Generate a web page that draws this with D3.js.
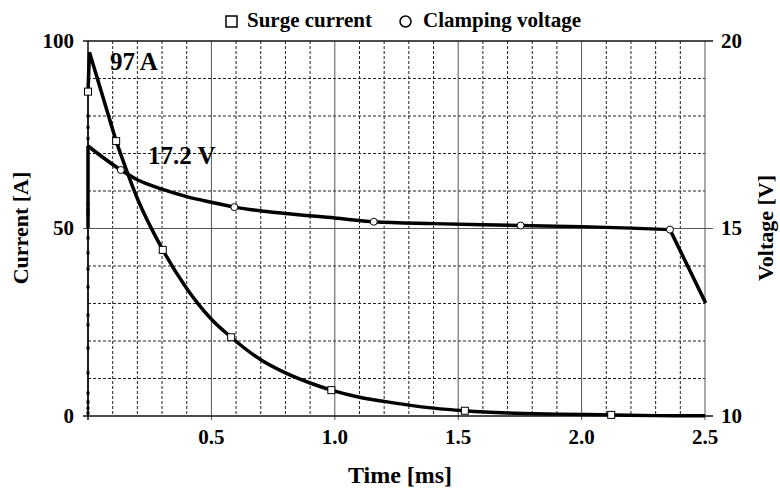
<!DOCTYPE html>
<html>
<head>
<meta charset="utf-8">
<script src="https://cdn.jsdelivr.net/npm/d3@7"></script>
<style>
  body { margin: 0; background: #fff; }
  svg { display: block; font-family: "Liberation Serif", "Times New Roman", serif; font-weight: bold; }
</style>
</head>
<body>
<svg width="780" height="495"></svg>
<script>
// surge current [A] vs time [ms]
var currentRise = [0.8, 2.1, 3.7, 6.1, 11.5, 18.1, 24.3, 26.9, 34.4, 39.2, 43.5, 47.5, 54.1, 55.0, 56.3, 74, 77, 80, 86.5];
var currentTime = [0, 0.006, 0.114, 0.2, 0.303, 0.4, 0.5, 0.58, 0.7, 0.8, 0.9, 0.986, 1.1, 1.2, 1.3, 1.4, 1.527, 1.7, 1.9, 2.12, 2.3, 2.5];
var currentVal  = [86.5, 97, 73.3, 58, 44.3, 34, 25.8, 21, 15, 11.5, 8.8, 6.9, 5.0, 3.9, 2.9, 2.1, 1.4, 0.8, 0.5, 0.3, 0.1, 0.05];
var currentMarkT = [0, 0.114, 0.303, 0.58, 0.986, 1.527, 2.12];
var currentMarkV = [86.5, 73.3, 44.3, 21, 6.9, 1.4, 0.3];

// clamping voltage [V]
var voltRise = [15.0, 17.2];
var voltTime = [0, 0.133, 0.2, 0.3, 0.4, 0.5, 0.593, 0.8, 1.0, 1.158, 1.4, 1.6, 1.753, 2.0, 2.2, 2.358, 2.5];
var voltVal  = [17.2, 16.56, 16.3, 16.05, 15.85, 15.7, 15.57, 15.4, 15.28, 15.18, 15.13, 15.1, 15.08, 15.05, 15.01, 14.97, 13.05];
var voltMarkT = [0.133, 0.593, 1.158, 1.753, 2.358];
var voltMarkV = [16.56, 15.57, 15.18, 15.08, 14.97];

var xTicks = [0.5, 1.0, 1.5, 2.0, 2.5];
var yTicks = [0, 50, 100];
var y2Ticks = [10, 15, 20];

var svg = d3.select("svg");
var pLeft = 88, pRight = 705, pTop = 41, pBottom = 416;

var x = d3.scaleLinear().domain([0, 2.5]).range([pLeft, pRight]);
var y = d3.scaleLinear().domain([0, 100]).range([pBottom, pTop]);
var y2 = d3.scaleLinear().domain([10, 20]).range([pBottom, pTop]);

// minor dashed grid
var g = svg.append("g");
d3.range(1, 25).filter(function(i) { return i % 5 != 0; }).forEach(function(i) {
  g.append("line").attr("x1", x(i / 10)).attr("x2", x(i / 10))
    .attr("y1", pTop).attr("y2", pBottom)
    .attr("stroke", "#222").attr("stroke-dasharray", "3,2");
});
d3.range(1, 10).filter(function(i) { return i != 5; }).forEach(function(i) {
  g.append("line").attr("x1", pLeft).attr("x2", pRight)
    .attr("y1", y(i * 10)).attr("y2", y(i * 10))
    .attr("stroke", "#222").attr("stroke-dasharray", "3,2");
});
// major grid
xTicks.forEach(function(t) {
  g.append("line").attr("x1", x(t)).attr("x2", x(t))
    .attr("y1", pTop).attr("y2", pBottom + 4)
    .attr("stroke", "#555");
});
g.append("line").attr("x1", pLeft - 5).attr("x2", pRight + 8)
  .attr("y1", y(50)).attr("y2", y(50)).attr("stroke", "#555");
g.append("line").attr("x1", pLeft - 5).attr("x2", pRight + 8)
  .attr("y1", y(100)).attr("y2", y(100)).attr("stroke", "#111").attr("stroke-width", 1.3);
g.append("line").attr("x1", pLeft - 5).attr("x2", pRight + 8)
  .attr("y1", y(0)).attr("y2", y(0)).attr("stroke", "#111").attr("stroke-width", 1.5);
g.append("line").attr("x1", pLeft).attr("x2", pLeft)
  .attr("y1", pTop).attr("y2", pBottom + 4).attr("stroke", "#111").attr("stroke-width", 1.5);

// tick labels
svg.append("g").selectAll("text").data(yTicks).enter().append("text")
  .attr("x", 74).attr("y", function(d) { return y(d); }).attr("dy", "0.33em")
  .attr("text-anchor", "end").attr("font-size", 21).text(function(d) { return d; });
svg.append("g").selectAll("text").data(y2Ticks).enter().append("text")
  .attr("x", 721).attr("y", function(d) { return y2(d); }).attr("dy", "0.33em")
  .attr("font-size", 21).text(function(d) { return d; });
svg.append("g").selectAll("text").data(xTicks).enter().append("text")
  .attr("x", function(d) { return x(d); }).attr("y", 444)
  .attr("text-anchor", "middle").attr("font-size", 21).text(function(d) { return d.toFixed(1); });

// axis titles
svg.append("text").attr("x", 400).attr("y", 483).attr("text-anchor", "middle")
  .attr("font-size", 24).text("Time [ms]");
svg.append("text").attr("transform", "translate(28,228) rotate(-90)").attr("text-anchor", "middle")
  .attr("font-size", 22).text("Current [A]");
svg.append("text").attr("transform", "translate(773,228) rotate(-90)").attr("text-anchor", "middle")
  .attr("font-size", 22).text("Voltage [V]");

// legend
var lg = svg.append("g");
lg.append("rect").attr("x", 226).attr("y", 16).attr("width", 11).attr("height", 11)
  .attr("fill", "#fff").attr("stroke", "#000").attr("stroke-width", 1.5);
lg.append("text").attr("x", 247).attr("y", 27).attr("font-size", 21).text("Surge current");
lg.append("circle").attr("cx", 405.5).attr("cy", 21.5).attr("r", 5.5)
  .attr("fill", "#fff").attr("stroke", "#000").attr("stroke-width", 1.5);
lg.append("text").attr("x", 423).attr("y", 27).attr("font-size", 21).text("Clamping voltage");

// curves
var smooth = d3.line().curve(d3.curveMonotoneX);
var straight = d3.line();

function pts(ts, vs, sc) {
  return ts.map(function(t, i) { return [x(t), sc(vs[i])]; });
}

// rise on the left edge (current, thin with dots)
svg.append("path")
  .attr("d", straight(currentRise.map(function(v) { return [x(0), y(v)]; }).concat([[x(0), y(0)]])))
  .attr("stroke", "#000").attr("stroke-width", 1.2).attr("fill", "none");
svg.append("g").selectAll("rect").data(currentRise).enter().append("rect")
  .attr("x", x(0) - 1.5).attr("y", function(d) { return y(d) - 1.5; })
  .attr("width", 3).attr("height", 3).attr("fill", "#000");

svg.append("path")
  .attr("d", straight(voltRise.map(function(v) { return [x(0), y2(v)]; })))
  .attr("stroke", "#000").attr("stroke-width", 3.5).attr("fill", "none");

// voltage: smooth plateau, straight drop after the last marker
var vp = pts(voltTime, voltVal, y2);
svg.append("path").attr("d", smooth(vp.slice(0, vp.length - 1)))
  .attr("stroke", "#000").attr("stroke-width", 3.5).attr("fill", "none");
svg.append("path").attr("d", straight(vp.slice(vp.length - 2)))
  .attr("stroke", "#000").attr("stroke-width", 3.5).attr("fill", "none").attr("stroke-linecap", "round");

// current: sharp peak, smooth decay
var cp = pts(currentTime, currentVal, y);
svg.append("path").attr("d", straight(cp.slice(0, 3)))
  .attr("stroke", "#000").attr("stroke-width", 3.5).attr("fill", "none").attr("stroke-linejoin", "miter");
svg.append("path").attr("d", smooth(cp.slice(2)))
  .attr("stroke", "#000").attr("stroke-width", 3.5).attr("fill", "none");

// markers
svg.append("g").selectAll("rect").data(currentMarkT).enter().append("rect")
  .attr("x", function(d) { return x(d) - 3.5; })
  .attr("y", function(d, i) { return y(currentMarkV[i]) - 3.5; })
  .attr("width", 7).attr("height", 7)
  .attr("fill", "#fff").attr("stroke", "#000").attr("stroke-width", 1);
svg.append("g").selectAll("circle").data(voltMarkT).enter().append("circle")
  .attr("cx", function(d) { return x(d); })
  .attr("cy", function(d, i) { return y2(voltMarkV[i]); })
  .attr("r", 3.5)
  .attr("fill", "#fff").attr("stroke", "#000").attr("stroke-width", 1);

// annotations
svg.append("text").attr("x", 110).attr("y", 70).attr("font-size", 25).text("97 A");
svg.append("text").attr("x", 148).attr("y", 164).attr("font-size", 25).text("17.2 V");
</script>
</body>
</html>
